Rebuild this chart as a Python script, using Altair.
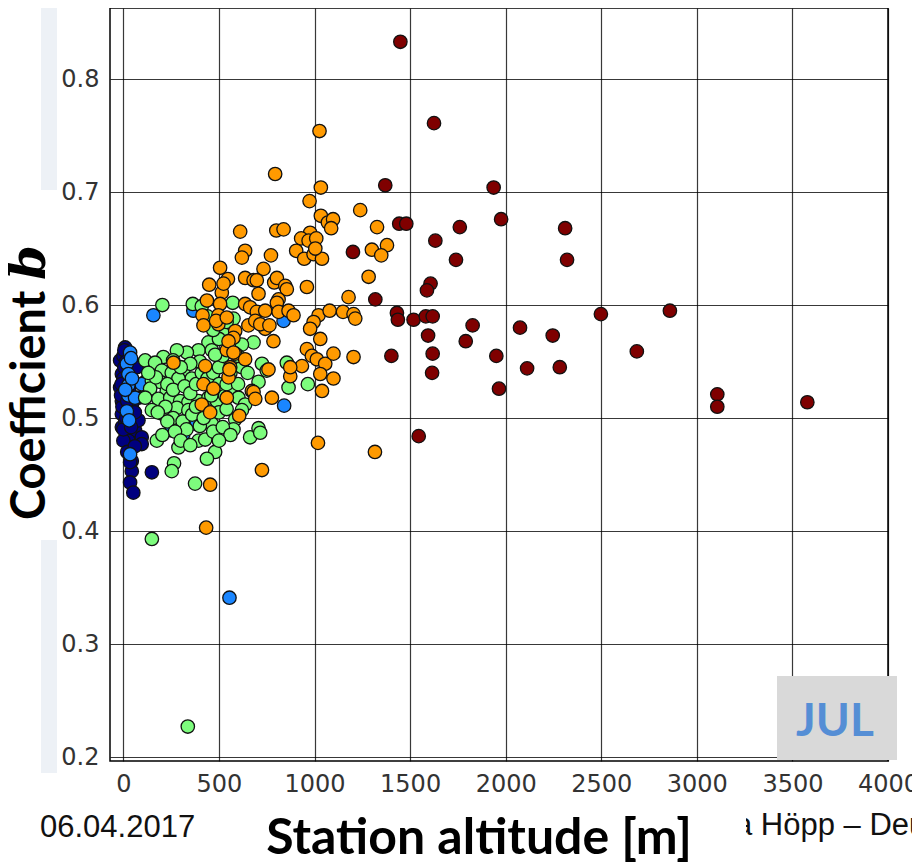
import altair as alt
import pandas as pd

# ---- data: (station altitude [m], coefficient b) ----
navy = [(9, 0.5625), (-17, 0.551), (-8, 0.539), (-17, 0.527), (-8, 0.515), (-8, 0.5035),
        (-8, 0.492), (26, 0.486), (61, 0.489), (96, 0.483), (96, 0.477), (26, 0.480),
        (44, 0.462), (44, 0.453), (35, 0.443), (52, 0.434), (149, 0.452), (70, 0.545),
        (79, 0.518), (52, 0.500), (79, 0.498), (0, 0.480), (35, 0.461), (0, 0.555),
        (5, 0.545), (0, 0.535), (10, 0.520), (-5, 0.510), (10, 0.497), (0, 0.490),
        (20, 0.470), (15, 0.500), (30, 0.525), (45, 0.512), (60, 0.505), (-10, 0.530),
        (5, 0.560), (-12, 0.520), (15, 0.550), (40, 0.492), (60, 0.475), (20, 0.515)]

blue = [(157, 0.591), (555, 0.341), (841, 0.511), (838, 0.586), (366, 0.595), (375, 0.495),
        (314, 0.486), (253, 0.489), (114, 0.532), (96, 0.530), (35, 0.558), (18, 0.548),
        (26, 0.539), (26, 0.529), (26, 0.520), (18, 0.506), (61, 0.518), (35, 0.468),
        (40, 0.553), (30, 0.498), (10, 0.525), (45, 0.535), (384, 0.497)]

green = [(204, 0.600), (363, 0.601), (410, 0.599), (572, 0.602), (576, 0.588),
         (681, 0.567), (445, 0.567), (393, 0.560), (463, 0.560), (332, 0.558), (280, 0.560),
         (209, 0.554), (114, 0.551), (166, 0.549), (201, 0.542), (253, 0.540), (314, 0.540),
         (358, 0.535), (288, 0.535), (149, 0.533), (192, 0.532), (227, 0.524), (140, 0.526),
         (114, 0.518), (183, 0.517), (245, 0.518), (297, 0.515), (340, 0.514), (393, 0.515),
         (445, 0.518), (489, 0.515), (532, 0.520), (568, 0.524), (602, 0.518), (637, 0.512),
         (149, 0.507), (201, 0.504), (280, 0.509), (340, 0.507), (428, 0.504), (463, 0.495),
         (585, 0.499), (620, 0.507), (175, 0.480), (288, 0.474), (393, 0.480), (428, 0.481),
         (480, 0.470), (437, 0.464), (265, 0.460), (253, 0.453), (375, 0.442), (576, 0.490),
         (663, 0.483), (707, 0.491), (716, 0.487), (204, 0.485), (855, 0.549), (864, 0.527),
         (725, 0.548), (707, 0.532), (965, 0.530), (750, 0.542), (337, 0.227), (149, 0.393),
         (230, 0.530), (260, 0.525), (320, 0.528), (350, 0.522), (380, 0.530), (410, 0.540),
         (440, 0.535), (470, 0.540), (500, 0.545), (520, 0.555), (480, 0.556), (400, 0.550),
         (350, 0.548), (300, 0.545), (260, 0.551), (170, 0.536), (130, 0.540), (220, 0.510),
         (260, 0.500), (310, 0.497), (360, 0.503), (400, 0.493), (500, 0.505), (540, 0.508),
         (330, 0.490), (230, 0.497), (180, 0.505), (500, 0.530), (540, 0.530), (600, 0.530),
         (560, 0.540), (620, 0.545), (520, 0.575), (500, 0.570), (470, 0.578), (540, 0.585),
         (440, 0.590), (620, 0.565), (600, 0.555), (650, 0.540), (460, 0.520), (270, 0.488),
         (300, 0.480), (350, 0.476), (420, 0.500), (380, 0.510), (470, 0.488), (520, 0.492),
         (560, 0.485), (500, 0.480)]

orange = [(1026, 0.754), (794, 0.716), (1033, 0.704), (974, 0.692), (1239, 0.684),
          (1033, 0.679), (1070, 0.673), (1097, 0.676), (1087, 0.668), (1327, 0.669),
          (611, 0.665), (800, 0.666), (838, 0.667), (977, 0.664), (930, 0.659), (969, 0.657),
          (1009, 0.659), (1379, 0.653), (1300, 0.649), (1349, 0.644), (904, 0.648), (946, 0.641),
          (995, 0.645), (1039, 0.641), (1004, 0.650), (637, 0.648), (620, 0.642), (772, 0.644),
          (1283, 0.625), (960, 0.616), (1178, 0.607), (506, 0.633), (547, 0.623), (449, 0.618),
          (637, 0.624), (681, 0.622), (733, 0.632), (698, 0.622), (707, 0.610), (789, 0.620),
          (803, 0.624), (847, 0.617), (855, 0.614), (515, 0.611), (524, 0.619), (437, 0.604),
          (506, 0.601), (637, 0.601), (812, 0.605), (803, 0.602), (414, 0.591), (497, 0.591),
          (419, 0.582), (497, 0.583), (654, 0.582), (485, 0.586), (541, 0.589), (585, 0.577),
          (576, 0.571), (541, 0.560), (585, 0.557), (637, 0.552), (559, 0.545), (428, 0.546),
          (262, 0.549), (550, 0.536), (419, 0.530), (541, 0.518), (410, 0.512), (672, 0.524),
          (454, 0.505), (606, 0.502), (471, 0.526), (663, 0.598), (698, 0.594), (742, 0.595),
          (812, 0.594), (864, 0.595), (690, 0.586), (742, 0.579), (785, 0.568), (716, 0.583),
          (764, 0.582), (890, 0.591), (1021, 0.591), (1079, 0.595), (1149, 0.594), (1204, 0.592),
          (1213, 0.588), (995, 0.585), (977, 0.579), (1030, 0.570), (960, 0.561), (986, 0.555),
          (1012, 0.552), (1056, 0.548), (1099, 0.557), (1204, 0.554), (934, 0.546), (873, 0.537),
          (1030, 0.539), (1099, 0.535), (1039, 0.524), (759, 0.543), (777, 0.518), (681, 0.523),
          (690, 0.517), (873, 0.545), (1018, 0.478), (1316, 0.470), (725, 0.454), (454, 0.441),
          (433, 0.403), (555, 0.543), (550, 0.568), (576, 0.558)]

darkred = [(1449, 0.833), (1625, 0.761), (1370, 0.706), (1937, 0.704), (1976, 0.676),
           (1443, 0.672), (1480, 0.672), (1760, 0.669), (2311, 0.668), (1632, 0.657),
           (1201, 0.647), (1740, 0.640), (2321, 0.640), (1607, 0.619), (1588, 0.613),
           (1318, 0.605), (1431, 0.593), (1436, 0.587), (1518, 0.587), (1582, 0.590),
           (1618, 0.590), (2498, 0.592), (2859, 0.595), (1827, 0.582), (2075, 0.580),
           (1594, 0.573), (2246, 0.573), (1791, 0.568), (2686, 0.559), (1402, 0.555),
           (1618, 0.557), (1951, 0.555), (2112, 0.544), (2283, 0.545), (1615, 0.540),
           (1965, 0.526), (3107, 0.521), (3107, 0.510), (3578, 0.514), (1545, 0.484)]

groups = ["navy", "blue", "green", "orange", "darkred"]
colors = ["#00007f", "#1a86ff", "#7dfc7d", "#ff9a00", "#7f0000"]
x_ticks = [0, 500, 1000, 1500, 2000, 2500, 3000, 3500, 4000]
y_ticks = [0.2, 0.3, 0.4, 0.5, 0.6, 0.7, 0.8]

rows = []
for g, pts in zip(groups, [navy, blue, green, orange, darkred]):
    for (a, b) in pts:
        rows.append({"alt": a, "b": b, "grp": g, "rank": len(rows)})
df = pd.DataFrame(rows)

W, H = 778, 753

points = alt.Chart(df).mark_point(
    shape="circle", filled=True, size=180, strokeWidth=1.3, opacity=1
).encode(
    x=alt.X("alt:Q", scale=alt.Scale(domain=[-70, 4000], nice=False, zero=False),
            axis=alt.Axis(values=x_ticks, title=None, format="d")),
    y=alt.Y("b:Q", scale=alt.Scale(domain=[0.1965, 0.8629], nice=False, zero=False),
            axis=alt.Axis(values=y_ticks, title=None, format=".1f")),
    fill=alt.Fill("grp:N", scale=alt.Scale(domain=groups, range=colors), legend=None),
    stroke=alt.value("#111111"),
    order=alt.Order("rank:Q"),
)

one = pd.DataFrame({"k": [0]})

def rect(x1, x2, y1, y2, color):
    return alt.Chart(one).mark_rect(color=color).encode(
        x=alt.value(x1), x2=alt.value(x2), y=alt.value(y1), y2=alt.value(y2))

def label(txt, x, y, **kw):
    return alt.Chart(pd.DataFrame({"t": [txt]})).mark_text(**kw).encode(
        text="t:N", x=alt.value(x), y=alt.value(y))

strip1 = rect(-69, -53, 0, 182, "#edf1f6")
strip2 = rect(-69, -53, 532, 765, "#edf1f6")
julbox = rect(667, 787, 668, 752, "#d9d9d9")
jul = label("JUL", 725, 728, font="Lato", fontWeight="bold", fontSize=46,
            color="#558ed5", align="center", baseline="alphabetic")

xtitle = label("Station altitude [m]", 369, 846, font="Lato", fontWeight="bold",
               fontSize=50, color="black", align="center", baseline="alphabetic")
ytitle = label("Coefficient", -65, 512, font="Lato", fontWeight="bold", fontSize=47,
               color="black", align="left", baseline="alphabetic", angle=270)
ytitle_b = label("b", -65, 272, font="DejaVu Serif", fontWeight="bold", fontStyle="italic",
                 fontSize=50, color="black", align="left", baseline="alphabetic", angle=270)

date = label("06.04.2017", -70, 829, font="Liberation Sans", fontSize=31, color="#111111",
             align="left", baseline="alphabetic")
author = label("a Höpp – Deutscher Wetterdienst", 625, 827, font="Liberation Sans",
               fontSize=31, color="#111111", align="left", baseline="alphabetic")
cover = rect(590, 636, 795, 840, "white")

chart = alt.layer(points, strip1, strip2, julbox, jul, xtitle, ytitle, ytitle_b,
                  date, author, cover).properties(
    width=W, height=H,
    padding={"left": 102, "top": 0, "right": 24, "bottom": 102},
    autosize=alt.AutoSizeParams(type="none"),
).configure_view(
    stroke="black", strokeWidth=1.5
).configure_axis(
    grid=True, gridColor="black", gridOpacity=0.78, gridWidth=1.2,
    labelFont="DejaVu Sans", labelFontSize=24, labelColor="#333333",
    tickSize=0, domain=False, labelFlush=False,
).configure_axisX(labelPadding=11).configure_axisY(labelPadding=11)

chart.save("out.html", embed_options={"renderer": "svg", "actions": False})
